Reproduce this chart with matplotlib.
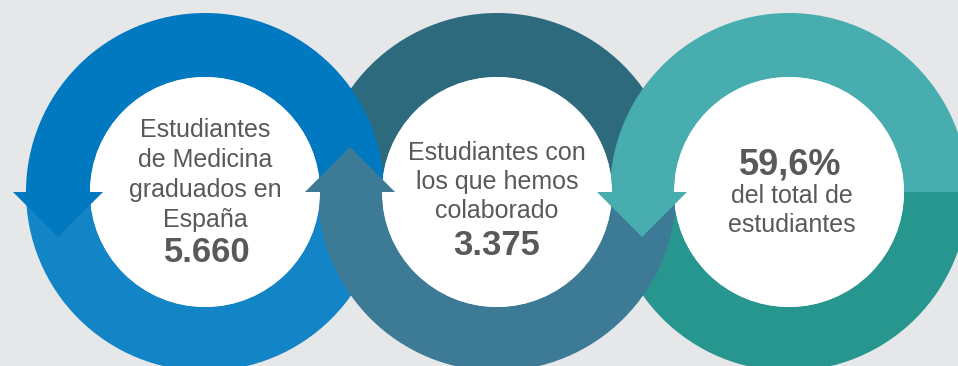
import matplotlib
matplotlib.use('Agg')
import matplotlib.pyplot as plt
from matplotlib.patches import Wedge, Circle, Polygon

# content of the three rings
labels = [
    ['Estudiantes', 'de Medicina', 'graduados en', 'España'],
    ['Estudiantes con', 'los que hemos', 'colaborado'],
    ['del total de', 'estudiantes'],
]
values = ['5.660', '3.375', '59,6%']
top_colors = ['#0079c1', '#2e6a7e', '#47adae']
bottom_colors = ['#1385c6', '#3c7a96', '#26968f']

W, H = 958, 366
centers_x = [205, 497, 789]
cy = 192
R_out, R_in = 179, 115
bg = '#e6e7e9'
txt = '#58595b'

plt.rcParams['font.family'] = ['Liberation Sans', 'DejaVu Sans']

fig = plt.figure(figsize=(W / 100, H / 100), dpi=100, facecolor=bg)
ax = fig.add_axes([0, 0, 1, 1])
ax.set_xlim(0, W)
ax.set_ylim(H, 0)
ax.set_aspect('equal')
ax.axis('off')
ax.set_facecolor(bg)

def half(i, top, z):
    # y axis is inverted, so 180-360 is the upper half on screen
    t1, t2 = (180, 360) if top else (0, 180)
    c = top_colors[i] if top else bottom_colors[i]
    ax.add_patch(Wedge((centers_x[i], cy), R_out, t1, t2, width=R_out - R_in,
                       facecolor=c, edgecolor='none', zorder=z))

# middle ring sits under its neighbours at the top and over them at the bottom
half(1, True, 1)
for i in (0, 2):
    half(i, True, 2)
    half(i, False, 2)
half(1, False, 3)

for cx in centers_x:
    ax.add_patch(Circle((cx, cy), R_in, facecolor='white', edgecolor='none', zorder=4))

# arrow heads on the left side of each ring
mid = (R_out + R_in) / 2
hw = 45
for i, cx in enumerate(centers_x):
    ax_ = cx - mid
    if i == 1:
        pts = [(ax_ - hw, cy), (ax_ + hw, cy), (ax_, cy - hw)]
        c = bottom_colors[i]
    else:
        pts = [(ax_ - hw, cy), (ax_ + hw, cy), (ax_, cy + hw)]
        c = top_colors[i]
    ax.add_patch(Polygon(pts, closed=True, facecolor=c, edgecolor='none', zorder=5))

# texts
reg = 18
big = 25
base1 = [137, 167, 197, 227]
for s, y in zip(labels[0], base1):
    ax.text(205, y, s, ha='center', va='baseline', fontsize=reg, color=txt, zorder=6)
ax.text(207, 262, values[0], ha='center', va='baseline', fontsize=big,
        fontweight='bold', color=txt, zorder=6)

base2 = [160, 189, 218]
for s, y in zip(labels[1], base2):
    ax.text(497, y, s, ha='center', va='baseline', fontsize=reg, color=txt, zorder=6)
ax.text(497, 255, values[1], ha='center', va='baseline', fontsize=big,
        fontweight='bold', color=txt, zorder=6)

ax.text(790, 174, values[2], ha='center', va='baseline', fontsize=big + 1,
        fontweight='bold', color=txt, zorder=6)
base3 = [203, 232]
for s, y in zip(labels[2], base3):
    ax.text(792, y, s, ha='center', va='baseline', fontsize=reg, color=txt, zorder=6)

fig.savefig('out.png', dpi=100, facecolor=bg)
